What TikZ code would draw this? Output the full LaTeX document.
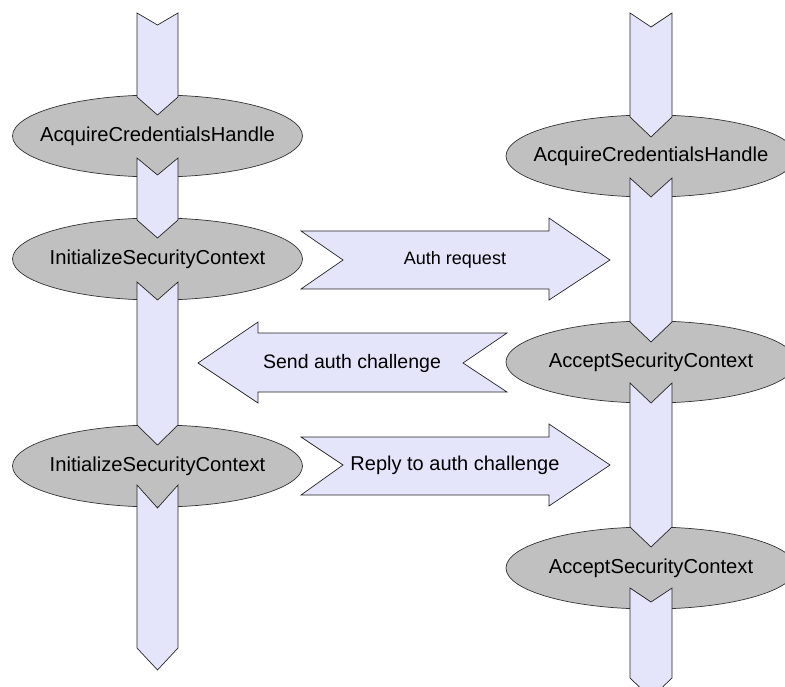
\documentclass[tikz,border=0pt]{standalone}
\usepackage{fontspec}
\setmainfont{Liberation Sans}
\usetikzlibrary{shapes.geometric}
\definecolor{lav}{RGB}{228,228,250}
\definecolor{sil}{RGB}{192,192,192}
\newcommand\vchev[6]{\draw[flow] (#1-#6,#2) -- (#1,#3) -- (#1+#6,#2) -- (#1+#6,#4) -- (#1,#5) -- (#1-#6,#4) -- cycle;}
\begin{document}
\begin{tikzpicture}[x=1pt,y=-1pt,
  state/.style={ellipse, draw=black!80, fill=sil, line width=0.7pt, minimum width=290pt, minimum height=82pt, inner sep=0pt},
  stxt/.style={inner sep=0pt, font=\fontsize{20.2}{24}\selectfont},
  flow/.style={draw=black!85, fill=lav, line width=0.7pt, line join=miter},
  lbl/.style={inner sep=0pt}]
\useasboundingbox (0,0) rectangle (785,687);
% state ellipses
\node[state] (a1) at (157.5,136) {};
\node[state] (i1) at (157.5,259) {};
\node[state] (i2) at (157.5,466) {};
\node[state] (b1) at (651,156) {};
\node[state] (c1) at (651,362) {};
\node[state] (c2) at (651,568) {};
% left flow arrows
\vchev{157.5}{13}{25}{97}{115}{20.5}
\vchev{157.5}{158}{175}{220}{238}{20.5}
\vchev{157.5}{282}{300}{425}{445}{20.5}
\vchev{157.5}{485}{508}{648}{670}{20.5}
% right flow arrows
\vchev{651}{13}{27}{117}{137}{21}
\vchev{651}{178}{197}{322}{342}{21}
\vchev{651}{383}{403}{527}{547}{21}
\vchev{651}{588}{602}{678}{698}{21}
% state texts
\node[stxt] (a1t) at (a1.center) {AcquireCredentialsHandle};
\node[stxt] (i1t) at (i1.center) {InitializeSecurityContext};
\node[stxt] (i2t) at (i2.center) {InitializeSecurityContext};
\node[stxt] (b1t) at (b1.center) {AcquireCredentialsHandle};
\node[stxt] (c1t) at (c1.center) {AcceptSecurityContext};
\node[stxt] (c2t) at (c2.center) {AcceptSecurityContext};
% message arrows
\draw[flow] (301,231) -- (549,231) -- (549,218) -- (610,260) -- (549,300) -- (549,289) -- (301,289) -- (343,260) -- cycle;
\draw[flow] (198,363) -- (258,322) -- (258,333) -- (507,333) -- (463,363) -- (507,392) -- (258,392) -- (258,403) -- cycle;
\draw[flow] (301,437) -- (549,437) -- (549,424) -- (610,465) -- (549,506) -- (549,495) -- (301,495) -- (343,465) -- cycle;
\node[lbl, font=\fontsize{18}{22}\selectfont] (m1) at (455,260) {Auth request};
\node[lbl, font=\fontsize{19.5}{23}\selectfont] (m2) at (352,363) {Send auth challenge};
\node[lbl, font=\fontsize{20}{24}\selectfont] (m3) at (455,465) {Reply to auth challenge};
\end{tikzpicture}
\end{document}
